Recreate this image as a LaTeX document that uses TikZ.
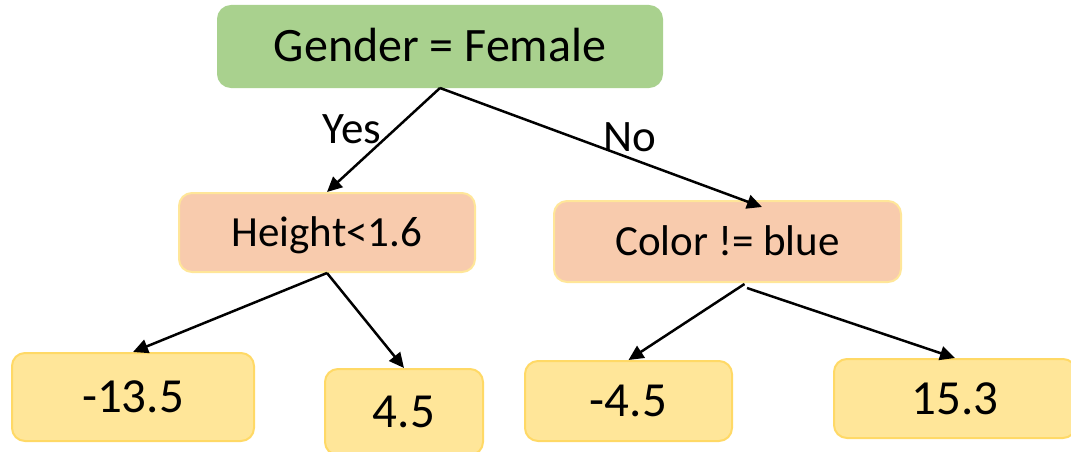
\documentclass[tikz,border=0pt]{standalone}
\usepackage{fontspec}
\setmainfont{Carlito}
\usetikzlibrary{arrows.meta,calc}

\definecolor{rootfill}{HTML}{A9D18E}
\definecolor{splitfill}{HTML}{F8CBAD}
\definecolor{leaffill}{HTML}{FFE699}
\definecolor{leafline}{HTML}{FFD966}

\tikzset{
  box/.style={rectangle, rounded corners=13pt, line width=2pt, inner sep=0pt,
              text depth=0pt, align=center},
  rootbox/.style={box, fill=rootfill, draw=rootfill, text height=31pt,
                  font=\fontsize{48}{52}\selectfont},
  splitbox/.style={box, fill=splitfill, draw=leaffill, text height=27.7pt,
                   font=\fontsize{43}{47}\selectfont},
  leafbox/.style={box, fill=leaffill, draw=leafline, text height=31.5pt,
                  font=\fontsize{49}{52}\selectfont},
  edgelabel/.style={anchor=base, inner sep=0pt, font=\fontsize{45}{48}\selectfont},
  link/.style={line width=2.5pt, -{Triangle[length=15pt,width=14pt]}}
}

\begin{document}
\begin{tikzpicture}[x=1pt,y=-1pt]
  \useasboundingbox (0,0) rectangle (1071,452);
  \clip (0,0) rectangle (1071,452);

  % decision nodes
  \node[rootbox, minimum width=444pt, minimum height=81pt] (root) at (440,46.5) {Gender = Female};
  \node[splitbox, minimum width=296pt, minimum height=79pt] (height) at (327,232.5) {Height<1.6};
  \node[splitbox, minimum width=347pt, minimum height=81pt] (color) at (727.5,241.5) {Color != blue};

  % leaf values
  \node[leafbox, minimum width=242pt, minimum height=88pt] (l1) at (133,397) {-13.5};
  \node[leafbox, minimum width=158pt, minimum height=86pt] (l2) at (404,412) {4.5};
  \node[leafbox, minimum width=207pt, minimum height=80pt] (l3) at (628.5,401) {-4.5};
  \node[leafbox, minimum width=242pt, minimum height=79pt] (l4) at (955,398.5) {15.3};

  % branches
  \draw[link] (root.south) -- (height.north);
  \draw[link] (root.south) -- ($(color.north)+(34.5,7)$);
  \draw[link] (height.south) -- (l1.north);
  \draw[link] (height.south) -- (l2.north);
  \draw[link] ($(color.south)+(17,1)$) -- (l3.north);
  \draw[link] ($(color.south)+(19.5,5)$) -- (l4.north);

  % branch labels
  \node[edgelabel] (yes) at (352,143) {Yes};
  \node[edgelabel] (no) at (630,151) {No};
\end{tikzpicture}
\end{document}
